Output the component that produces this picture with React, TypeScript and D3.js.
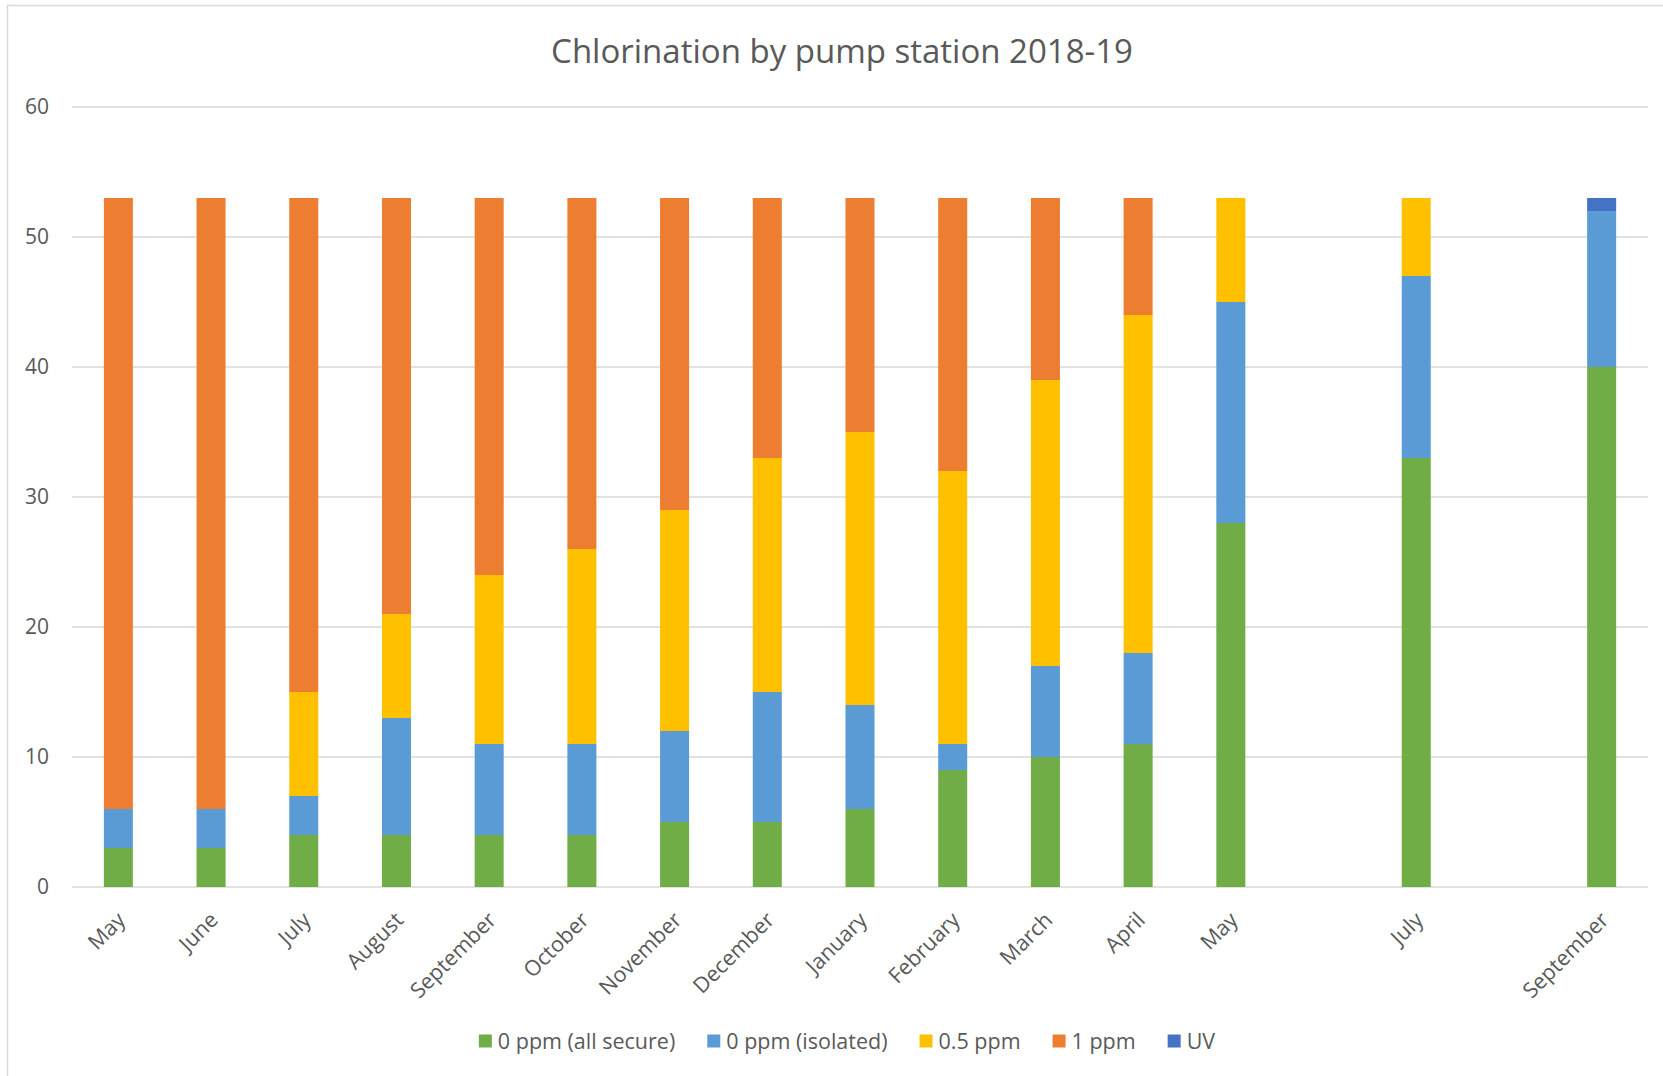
import * as d3 from 'd3';
import React, { useEffect, useRef } from 'react';

const months = [
  'May', 'June', 'July', 'August', 'September', 'October', 'November', 'December',
  'January', 'February', 'March', 'April', 'May', 'June', 'July', 'August', 'September',
];
// Excel left the labels of the two empty months off
const shownLabels = [
  'May', 'June', 'July', 'August', 'September', 'October', 'November', 'December',
  'January', 'February', 'March', 'April', 'May', '', 'July', '', 'September',
];

const allSecure = [3, 3, 4, 4, 4, 4, 5, 5, 6, 9, 10, 11, 28, 0, 33, 0, 40];
const isolated = [3, 3, 3, 9, 7, 7, 7, 10, 8, 2, 7, 7, 17, 0, 14, 0, 12];
const halfPpm = [0, 0, 8, 8, 13, 15, 17, 18, 21, 21, 22, 26, 8, 0, 6, 0, 0];
const onePpm = [47, 47, 38, 32, 29, 27, 24, 20, 18, 21, 14, 9, 0, 0, 0, 0, 0];
const uv = [0, 0, 0, 0, 0, 0, 0, 0, 0, 0, 0, 0, 0, 0, 0, 0, 1];

const seriesNames = ['0 ppm (all secure)', '0 ppm (isolated)', '0.5 ppm', '1 ppm', 'UV'];
const seriesColors = ['#70AD47', '#5B9BD5', '#FFC000', '#ED7D31', '#4472C4'];
const yTicks = [0, 10, 20, 30, 40, 50, 60];

const W = 1663;
const H = 1076;
const FONT = '"Open Sans", "Noto Sans", sans-serif';
const TEXT = '#595959';

function App() {
  const svgRef = useRef<SVGSVGElement>(null);

  useEffect(() => {
    const svg = d3.select(svgRef.current);
    svg.selectAll('*').remove();

    const left = 72;
    const right = 1648;
    const top = 107;
    const bottom = 887;

    const rows = months.map((m, i) => ({
      idx: String(i),
      s0: allSecure[i],
      s1: isolated[i],
      s2: halfPpm[i],
      s3: onePpm[i],
      s4: uv[i],
    }));
    const keys = ['s0', 's1', 's2', 's3', 's4'];

    const x = d3
      .scaleBand<string>()
      .domain(rows.map((r) => r.idx))
      .range([left, right])
      .paddingInner(0.687)
      .paddingOuter(0.3435);
    const y = d3.scaleLinear().domain([0, 60]).range([bottom, top]);

    svg
      .append('rect')
      .attr('x', 7.5)
      .attr('y', 5.5)
      .attr('width', W)
      .attr('height', H)
      .attr('fill', '#fff')
      .attr('stroke', '#D9D9D9')
      .attr('stroke-width', 1.5);

    svg
      .append('text')
      .attr('x', 842)
      .attr('y', 63)
      .attr('text-anchor', 'middle')
      .attr('font-family', FONT)
      .attr('font-size', 33)
      .attr('fill', TEXT)
      .text('Chlorination by pump station 2018-19');

    // gridlines
    svg
      .append('g')
      .selectAll('line')
      .data(yTicks)
      .join('line')
      .attr('x1', left)
      .attr('x2', right)
      .attr('y1', (d) => y(d))
      .attr('y2', (d) => y(d))
      .attr('stroke', '#D9D9D9')
      .attr('stroke-width', 1.5);

    svg
      .append('g')
      .selectAll('text')
      .data(yTicks)
      .join('text')
      .attr('x', 49)
      .attr('y', (d) => y(d))
      .attr('dy', '0.35em')
      .attr('text-anchor', 'end')
      .attr('font-family', FONT)
      .attr('font-size', 21)
      .attr('fill', TEXT)
      .text((d) => d);

    const stacked = d3.stack<any>().keys(keys)(rows);

    svg
      .append('g')
      .selectAll('g')
      .data(stacked)
      .join('g')
      .attr('fill', (d, i) => seriesColors[i])
      .selectAll('rect')
      .data((d) => d.filter((p) => p[1] - p[0] > 0))
      .join('rect')
      .attr('x', (d) => x(d.data.idx)!)
      .attr('width', x.bandwidth())
      .attr('y', (d) => y(d[1]))
      .attr('height', (d) => y(d[0]) - y(d[1]));

    svg
      .append('g')
      .selectAll('text')
      .data(rows)
      .join('text')
      .attr(
        'transform',
        (d) => `translate(${x(d.idx)! + x.bandwidth() / 2 + 3},${916}) rotate(-45)`
      )
      .attr('dy', '0.35em')
      .attr('text-anchor', 'end')
      .attr('font-family', FONT)
      .attr('font-size', 21.5)
      .attr('fill', TEXT)
      .text((d, i) => shownLabels[i]);

    // legend, centred under the plot
    const legend = svg.append('g');
    const items = legend
      .selectAll('g')
      .data(seriesNames)
      .join('g');
    items
      .append('rect')
      .attr('width', 13)
      .attr('height', 13)
      .attr('y', -6.5)
      .attr('fill', (d, i) => seriesColors[i]);
    items
      .append('text')
      .attr('x', 19)
      .attr('dy', '0.35em')
      .attr('font-family', FONT)
      .attr('font-size', 21.5)
      .attr('fill', TEXT)
      .text((d) => d);

    const widths: number[] = [];
    items.select('text').each(function () {
      widths.push(19 + (this as SVGTextElement).getComputedTextLength());
    });
    const gap = 32;
    const total = d3.sum(widths) + gap * (widths.length - 1);
    let cursor = 847 - total / 2;
    items.attr('transform', (d, i) => {
      const t = `translate(${cursor},1041)`;
      cursor += widths[i] + gap;
      return t;
    });
  }, []);

  return (
    <div>
      <svg
        ref={svgRef}
        width={W}
        height={H}
        style={{ position: 'absolute', left: 0, top: 0 }}
      />
    </div>
  );
}

export default App;
